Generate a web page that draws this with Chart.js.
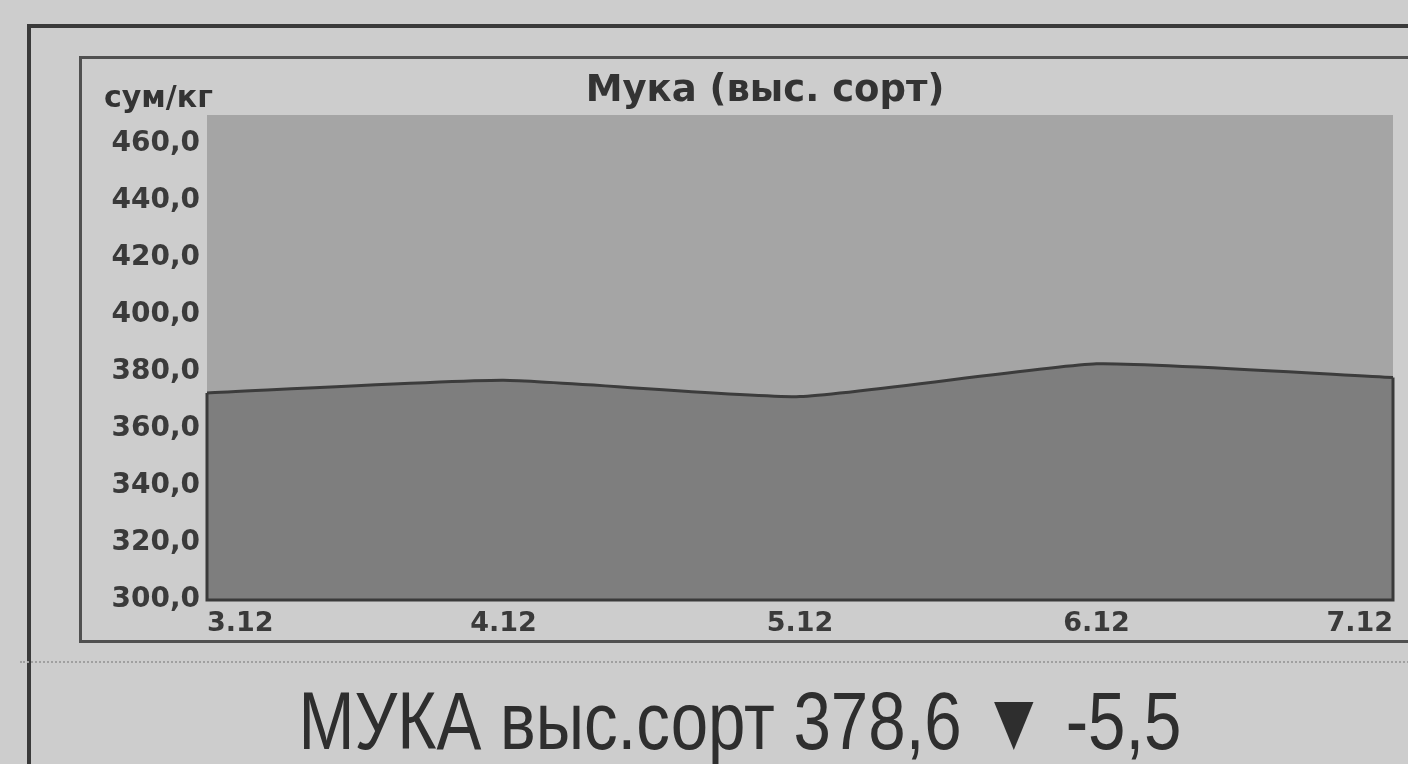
<!DOCTYPE html>
<html>
<head>
<meta charset="utf-8">
<script src="https://cdn.jsdelivr.net/npm/chart.js@4"></script>
<style>
  html, body { margin: 0; padding: 0; }
  body { width: 1408px; height: 764px; background: #cdcdcd; position: relative; overflow: hidden; }
  #outer { position: absolute; left: 27px; top: 24px; width: 1500px; height: 800px; border: 4px solid #3a3a3a; }
  #box { position: absolute; left: 79px; top: 56px; width: 1340px; height: 581px; border: 3px solid #505050; }
  #wrap { position: absolute; left: 82px; top: 59px; width: 1326px; height: 581px; }
  #dots { position: absolute; left: 20px; top: 661px; width: 1400px; border-top: 2px dotted #a0a0a0; }
  #caption { position: absolute; left: 0; top: 679px; width: 1480px; text-align: center;
    font-family: "Liberation Sans", sans-serif; font-size: 82px; line-height: 84px;
    color: #2e2e2e; white-space: nowrap; transform: scaleX(0.82); transform-origin: 740px 0; }
</style>
</head>
<body>
<div id="outer"></div>
<div id="box"></div>
<div id="wrap"><canvas id="priceChart" width="1326" height="581"></canvas></div>
<div id="dots"></div>
<div id="caption">МУКА выс.сорт 378,6 ▼ -5,5</div>

<script>
// Мука (выс. сорт), сум/кг
const dates = ["3.12", "4.12", "5.12", "6.12", "7.12"];
const prices = [372.6, 377.0, 371.3, 382.8, 378.0];
const yTicks = [300, 320, 340, 360, 380, 400, 420, 440, 460];
const chartTitle = "Мука (выс. сорт)";
const unitLabel = "сум/кг";

const frame = {
    id: "frame",
    beforeDraw(chart) {
        const a = chart.chartArea;
        const ctx = chart.ctx;
        ctx.save();
        ctx.fillStyle = "#a5a5a5";
        ctx.fillRect(a.left, a.top, a.right - a.left, a.bottom - a.top);
        ctx.restore();
    },
    afterDatasetsDraw(chart) {
        const pts = chart.getDatasetMeta(0).data;
        const a = chart.chartArea;
        const first = pts[0], last = pts[pts.length - 1];
        const ctx = chart.ctx;
        ctx.save();
        ctx.strokeStyle = "#3a3a3a";
        ctx.lineWidth = 3;
        ctx.beginPath();
        ctx.moveTo(first.x, first.y);
        ctx.lineTo(first.x, a.bottom);
        ctx.lineTo(last.x, a.bottom);
        ctx.lineTo(last.x, last.y);
        ctx.stroke();
        ctx.restore();
    },
    afterDraw(chart) {
        const ctx = chart.ctx;
        ctx.save();
        ctx.fillStyle = "#333";
        ctx.textBaseline = "middle";
        ctx.font = "bold 37px 'DejaVu Sans'";
        ctx.textAlign = "center";
        ctx.fillText(chartTitle, 683, 32);
        ctx.font = "bold 30px 'DejaVu Sans'";
        ctx.textAlign = "left";
        ctx.fillText(unitLabel, 22, 40);
        ctx.restore();
    }
};

new Chart(document.getElementById("priceChart"), {

    type: "line",

    data: {

        labels: dates,

        datasets: [{

            data: prices,

            fill: "start",

            backgroundColor: "#7e7e7e",

            borderColor: "#3c3c3c",

            borderWidth: 3,

            pointRadius: 0,

            tension: .15

        }]

    },

    options: {

        responsive: false,

        animation: false,

        layout: { padding: { top: 56, right: 15 } },

        plugins: { legend: { display: false }, tooltip: { enabled: false } },

        scales: {

            x: {

                offset: false,

                grid: { display: false, drawTicks: false },

                border: { display: false },

                afterFit: s => { s.height = 40; },

                ticks: {

                    align: "inner",

                    autoSkip: false,

                    maxRotation: 0,

                    padding: 8,

                    color: "#3a3a3a",

                    font: { family: "DejaVu Sans", size: 27, weight: "bold" }

                }

            },

            y: {

                min: 300,

                max: 470,

                grid: { display: false, drawTicks: false },

                border: { display: false },

                afterFit: s => { s.width = 125; },

                afterBuildTicks: s => { s.ticks = yTicks.map(v => ({ value: v })); },

                ticks: {

                    padding: 7,

                    color: "#3a3a3a",

                    font: { family: "DejaVu Sans", size: 28, weight: "bold" },

                    callback: v => v.toFixed(1).replace(".", ",")

                }

            }

        }

    },

    plugins: [frame]

});
</script>
</body>
</html>
